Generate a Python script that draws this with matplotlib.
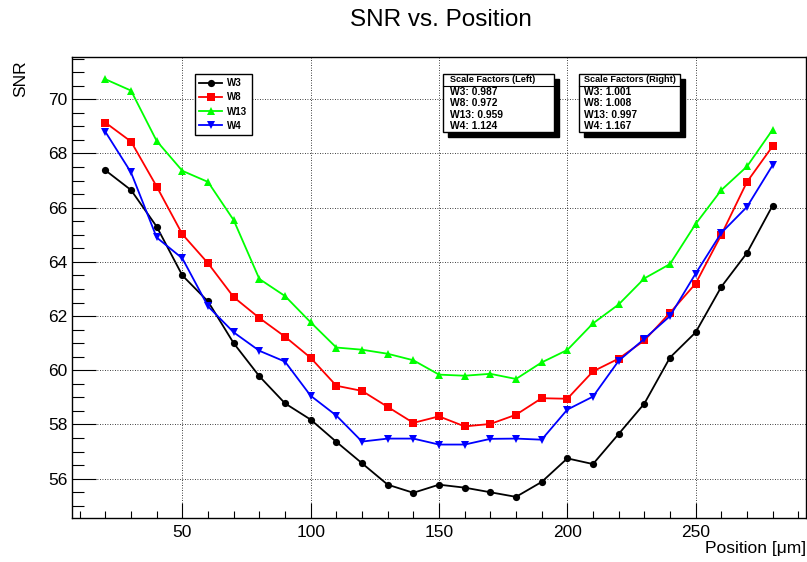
import matplotlib
matplotlib.use("Agg")
import matplotlib.pyplot as plt
from matplotlib.patches import Rectangle
from matplotlib.lines import Line2D
from matplotlib.ticker import MultipleLocator

plt.rcParams['font.family'] = ['Liberation Sans', 'DejaVu Sans']

positions = [20, 30, 40, 50, 60, 70, 80, 90, 100, 110, 120, 130, 140, 150,
             160, 170, 180, 190, 200, 210, 220, 230, 240, 250, 260, 270, 280]

snr_w3 = [67.38, 66.65, 65.3, 63.5, 62.54, 61.0, 59.78, 58.78, 58.18, 57.36,
          56.57, 55.78, 55.48, 55.78, 55.67, 55.5, 55.33, 55.88, 56.75, 56.54,
          57.65, 58.77, 60.47, 61.4, 63.08, 64.33, 66.08]
snr_w8 = [69.14, 68.44, 66.78, 65.02, 63.95, 62.7, 61.93, 61.24, 60.46, 59.43,
          59.24, 58.65, 58.06, 58.3, 57.93, 58.02, 58.36, 58.97, 58.95, 59.96,
          60.43, 61.1, 62.12, 63.2, 65.0, 66.95, 68.27]
snr_w13 = [70.74, 70.32, 68.46, 67.36, 66.95, 65.54, 63.37, 62.74, 61.77, 60.84,
           60.76, 60.61, 60.37, 59.84, 59.8, 59.87, 59.68, 60.29, 60.75, 61.73,
           62.43, 63.39, 63.92, 65.4, 66.65, 67.52, 68.88]
snr_w4 = [68.8, 67.3, 64.9, 64.13, 62.36, 61.4, 60.72, 60.32, 59.06, 58.33,
          57.37, 57.48, 57.48, 57.26, 57.26, 57.47, 57.48, 57.44, 58.55, 59.03,
          60.35, 61.16, 62.0, 63.57, 65.07, 66.03, 67.57]

series_names = ["W3", "W8", "W13", "W4"]
scale_left = ["0.987", "0.972", "0.959", "1.124"]
scale_right = ["1.001", "1.008", "0.997", "1.167"]

W, H = 807, 562
fig = plt.figure(figsize=(W / 100, H / 100), dpi=100)


def fx(x):
    return x / W


def fy(y):
    return 1 - y / H


ax = fig.add_axes([fx(72), fy(518), fx(806) - fx(72), fy(57) - fy(518)])

styles = [
    dict(color="black", marker="o", ms=5.2),
    dict(color="#ff0000", marker="s", ms=5.6),
    dict(color="#00ff00", marker="^", ms=5.6),
    dict(color="#0000ff", marker="v", ms=5.6),
]
data = [snr_w3, snr_w8, snr_w13, snr_w4]
handles = []
for name, vals, st in zip(series_names, data, styles):
    h, = ax.plot(positions, vals, color=st["color"], marker=st["marker"],
                 markersize=st["ms"], linewidth=1.3, markeredgewidth=0,
                 label=name, zorder=3)
    handles.append(h)

ax.set_xlim(7, 293)
ax.set_ylim(54.55, 71.56)

ax.xaxis.set_major_locator(MultipleLocator(50))
ax.xaxis.set_minor_locator(MultipleLocator(10))
ax.yaxis.set_major_locator(MultipleLocator(2))
ax.yaxis.set_minor_locator(MultipleLocator(0.5))

ax.tick_params(axis='both', which='both', direction='in', top=False, right=False,
               labelsize=12.5, color='black')
ax.tick_params(axis='x', which='major', length=10.8, width=0.8, pad=5)
ax.tick_params(axis='x', which='minor', length=5.3, width=0.8)
ax.tick_params(axis='y', which='major', length=17, width=0.8, pad=3)
ax.tick_params(axis='y', which='minor', length=8.6, width=0.8)

ax.grid(which='major', linestyle=(0, (1, 2)), color='black', linewidth=0.6, zorder=0)
ax.set_axisbelow(True)
for s in ax.spines.values():
    s.set_linewidth(1.0)

fig.text(fx(441), fy(20), "SNR vs. Position", ha='center', va='center', fontsize=17.5)
fig.text(fx(806), fy(548), "Position [μm]", ha='right', va='center', fontsize=12.5)
fig.text(fx(21), fy(79), "SNR", ha='center', va='center', rotation=90, fontsize=12.5)

leg = ax.legend(handles=handles, labels=series_names, loc='upper left',
                bbox_to_anchor=(fx(195), fy(74)), bbox_transform=fig.transFigure,
                frameon=True, fancybox=False, edgecolor='black', framealpha=1,
                prop=dict(weight='bold', size=7), borderpad=0.45,
                handlelength=2.3, handletextpad=0.55, labelspacing=0.42,
                borderaxespad=0)
leg.get_frame().set_linewidth(1.0)


def text_box(x0, x1, y0, y1, pad, title, names, values):
    shadow = Rectangle((fx(x0 + 5), fy(y1 + 4.5)), fx(x1) - fx(x0), fy(y0) - fy(y1),
                       transform=fig.transFigure, facecolor='black', edgecolor='black',
                       zorder=10)
    box = Rectangle((fx(x0), fy(y1)), fx(x1) - fx(x0), fy(y0) - fy(y1),
                    transform=fig.transFigure, facecolor='white', edgecolor='black',
                    linewidth=1.0, zorder=11)
    fig.add_artist(shadow)
    fig.add_artist(box)
    fig.text(fx(x0 + pad), fy(y0 + 6), title, ha='left', va='center',
             fontsize=6.6, weight='bold', zorder=12)
    fig.add_artist(Line2D([fx(x0), fx(x1)], [fy(y0 + 11.5), fy(y0 + 11.5)],
                          transform=fig.transFigure, color='black', lw=0.8, zorder=12))
    for i, (n, v) in enumerate(zip(names, values)):
        fig.text(fx(x0 + pad), fy(y0 + 18.3 + i * 11.2), f"{n}: {v}", ha='left',
                 va='center', fontsize=7.4, weight='bold', zorder=12)


text_box(443, 554, 74, 132, 6.5, "Scale Factors (Left)", series_names, scale_left)
text_box(579, 680, 74, 132, 5.5, "Scale Factors (Right)", series_names, scale_right)

fig.savefig("out.png", dpi=100)
